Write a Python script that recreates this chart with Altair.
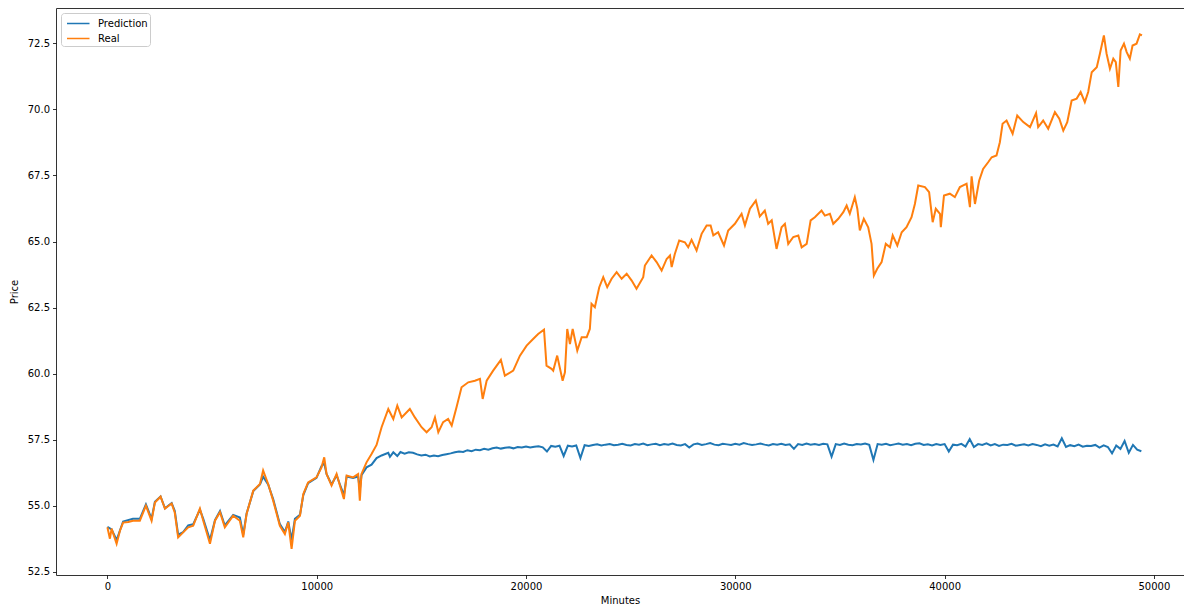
import altair as alt
import pandas as pd

# ---- Real series ----
real_x = [0, 120, 200, 440, 600, 750, 1000, 1220, 1550, 1840, 2110, 2270, 2540, 2750, 3070, 3220,
          3380, 3620, 3860, 4100, 4420, 4580, 4900, 5140, 5380, 5610, 6010, 6330, 6490, 6650, 6970,
          7290, 7440, 7680, 7920, 8240, 8480, 8640, 8800, 8960, 9200, 9360, 9590, 9990, 10230, 10360,
          10470, 10710, 10950, 11110, 11300, 11430, 11740, 11980, 12060, 12140, 12380, 12620, 12860,
          13100, 13420, 13660, 13850, 14060, 14450, 14690, 15010, 15250, 15490, 15650, 15810, 16040,
          16280, 16450, 16680, 16920, 17240, 17560, 17800, 17930, 18120, 18430, 18800, 18990, 19390,
          19710, 20030, 20340, 20580, 20860, 20980, 21220, 21300, 21490, 21750, 21860, 21970, 22100,
          22230, 22450, 22660, 22900, 23050, 23130, 23290, 23500, 23690, 23880, 24090, 24330, 24570,
          24810, 25050, 25280, 25600, 25680, 26000, 26240, 26480, 26720, 26880, 26960, 27110, 27320,
          27590, 27750, 27910, 28150, 28390, 28630, 28820, 28950, 29180, 29460, 29660, 29980, 30300,
          30460, 30700, 30980, 31170, 31410, 31570, 31740, 31970, 32210, 32370, 32530, 32770, 33010,
          33170, 33410, 33600, 33800, 34120, 34280, 34520, 34680, 34920, 35160, 35320, 35470, 35710,
          35830, 35950, 36140, 36350, 36510, 36620, 36780, 36990, 37190, 37390, 37520, 37740, 37950,
          38180, 38420, 38580, 38740, 39060, 39260, 39430, 39580, 39780, 39820, 39970, 40250, 40490,
          40730, 41050, 41210, 41290, 41450, 41650, 41840, 42080, 42250, 42480, 42640, 42770, 42960,
          43250, 43470, 43760, 44080, 44370, 44470, 44710, 44950, 45270, 45480, 45670, 45860, 46070,
          46310, 46500, 46700, 46860, 47030, 47270, 47420, 47610, 47740, 47900, 48060, 48180, 48300,
          48410, 48570, 48700, 48850, 48980, 49170, 49330, 49430]
real_y = [54.18, 53.75, 54.13, 53.56, 54.05, 54.36, 54.38, 54.43, 54.43, 55.0, 54.43, 55.12, 55.34,
          54.89, 55.08, 54.73, 53.8, 53.99, 54.18, 54.24, 54.89, 54.43, 53.56, 54.43, 54.75, 54.18,
          54.62, 54.43, 53.8, 54.69, 55.57, 55.82, 56.33, 55.82, 55.19, 54.24, 53.93, 54.37, 53.36,
          54.43, 54.62, 55.44, 55.88, 56.07, 56.45, 56.83, 56.2, 55.76, 56.2, 55.76, 55.25, 56.14,
          56.07, 56.2, 55.19, 56.2, 56.64, 56.96, 57.3, 57.97, 58.66, 58.28, 58.79, 58.34, 58.66,
          58.34, 57.97, 57.78, 57.97, 58.34, 57.78, 58.16, 58.28, 58.03, 58.73, 59.48, 59.67, 59.73,
          59.8, 59.04, 59.73, 60.11, 60.52, 59.92, 60.11, 60.68, 61.06, 61.31, 61.5, 61.66, 60.3,
          60.18, 60.11, 60.68, 59.73, 60.05, 61.69, 61.12, 61.69, 60.87, 61.38, 61.38, 61.69, 62.64,
          62.51, 63.27, 63.65, 63.27, 63.59, 63.84, 63.59, 63.78, 63.52, 63.21, 63.65, 64.09, 64.47,
          64.22, 63.9, 64.34, 64.47, 64.03, 64.53, 65.04, 64.97, 64.78, 65.06, 64.66, 65.29, 65.61,
          65.61, 65.23, 65.35, 64.85, 65.42, 65.67, 66.05, 65.61, 66.24, 66.55, 65.95, 66.17, 65.67,
          65.8, 64.72, 65.54, 65.67, 64.91, 65.17, 65.23, 64.78, 64.91, 65.8, 65.92, 66.17, 65.98,
          66.05, 65.67, 65.86, 66.11, 66.36, 66.05, 66.68, 66.24, 65.42, 65.86, 65.54, 64.91, 63.71,
          63.97, 64.22, 64.91, 64.78, 65.23, 64.85, 65.35, 65.54, 65.92, 66.42, 67.12, 67.06, 66.87,
          65.73, 66.24, 66.05, 65.54, 66.74, 66.81, 66.68, 67.06, 67.19, 66.3, 67.47, 66.42, 67.3,
          67.75, 68.0, 68.19, 68.26, 68.76, 69.46, 69.58, 69.08, 69.77, 69.52, 69.33, 69.86, 69.33,
          69.58, 69.27, 69.9, 69.65, 69.2, 69.52, 70.34, 70.41, 70.66, 70.28, 70.66, 71.41, 71.6,
          72.11, 72.8, 72.11, 71.54, 71.92, 71.79, 70.85, 72.23, 72.49, 72.17, 71.92, 72.42, 72.49,
          72.84, 72.8]

# ---- Prediction series, first part (tracks the real price) ----
pred_x_early = [0, 200, 440, 750, 1220, 1550, 1840, 2110, 2270, 2540, 2750, 3070, 3220, 3380, 3620,
                3860, 4100, 4420, 4580, 4900, 5140, 5380, 5610, 6010, 6330, 6490, 6650, 6970, 7290,
                7440, 7680, 7920, 8240, 8480, 8640, 8800, 8960, 9200, 9360, 9590, 9990, 10230, 10360,
                10470, 10710, 10950, 11110, 11300, 11430, 11740, 11980, 12060, 12140, 12380, 12620,
                12860, 13100, 13420, 13500, 13660, 13850]
pred_y_early = [54.2, 54.1, 53.7, 54.4, 54.5, 54.5, 55.05, 54.5, 55.15, 55.35, 54.9, 55.1, 54.8, 53.9,
                54.0, 54.25, 54.3, 54.85, 54.5, 53.7, 54.45, 54.8, 54.25, 54.65, 54.55, 53.9, 54.7,
                55.55, 55.8, 56.1, 55.8, 55.25, 54.3, 54.0, 54.4, 53.7, 54.5, 54.65, 55.4, 55.85,
                56.05, 56.5, 56.6, 56.2, 55.8, 56.15, 55.8, 55.4, 56.1, 56.05, 56.1, 55.6, 56.15,
                56.45, 56.55, 56.8, 56.9, 57.0, 56.85, 57.02, 56.88]

# ---- Prediction series, flat part (noisy band around 57.3) ----
pred_x_flat = [14000, 14200, 14400, 14600, 14800, 15000, 15200, 15400, 15600, 15800,
               16000, 16200, 16400, 16600, 16800, 17000, 17200, 17400, 17600, 17800,
               18000, 18200, 18400, 18600, 18800, 19000, 19200, 19400, 19600, 19800,
               20000, 20200, 20400, 20600, 20800, 21000, 21200, 21400, 21600, 21800,
               22000, 22200, 22400, 22600, 22800, 23000, 23200, 23400, 23600, 23800,
               24000, 24200, 24400, 24600, 24800, 25000, 25200, 25400, 25600, 25800,
               26000, 26200, 26400, 26600, 26800, 27000, 27200, 27400, 27600, 27800,
               28000, 28200, 28400, 28600, 28800, 29000, 29200, 29400, 29600, 29800,
               30000, 30200, 30400, 30600, 30800, 31000, 31200, 31400, 31600, 31800,
               32000, 32200, 32400, 32600, 32800, 33000, 33200, 33400, 33600, 33800,
               34000, 34200, 34400, 34600, 34800, 35000, 35200, 35400, 35600, 35800,
               36000, 36200, 36400, 36600, 36800, 37000, 37200, 37400, 37600, 37800,
               38000, 38200, 38400, 38600, 38800, 39000, 39200, 39400, 39600, 39800,
               40000, 40200, 40400, 40600, 40800, 41000, 41200, 41400, 41600, 41800,
               42000, 42200, 42400, 42600, 42800, 43000, 43200, 43400, 43600, 43800,
               44000, 44200, 44400, 44600, 44800, 45000, 45200, 45400, 45600, 45800,
               46000, 46200, 46400, 46600, 46800, 47000, 47200, 47400, 47600, 47800,
               48000, 48200, 48400, 48600, 48800, 49000, 49200, 49400]
pred_y_flat = [57.03, 56.97, 57.02, 57.0, 56.94, 56.9, 56.93, 56.86, 56.9, 56.87,
               56.92, 56.95, 56.98, 57.02, 57.05, 57.03, 57.1, 57.06, 57.12, 57.1,
               57.15, 57.12, 57.17, 57.2, 57.16, 57.19, 57.21, 57.17, 57.22, 57.2,
               57.24, 57.2, 57.23, 57.25, 57.21, 57.05, 57.26, 57.23, 57.27, 56.88,
               57.27, 57.24, 57.28, 56.8, 57.29, 57.26, 57.3, 57.32, 57.28, 57.31,
               57.33, 57.29, 57.31, 57.34, 57.3, 57.28, 57.33, 57.31, 57.35, 57.29,
               57.32, 57.34, 57.29, 57.33, 57.31, 57.35, 57.3, 57.28, 57.33, 57.2,
               57.32, 57.35, 57.3, 57.33, 57.37, 57.31, 57.29, 57.34, 57.32, 57.3,
               57.34, 57.31, 57.37, 57.33, 57.3, 57.32, 57.35, 57.31, 57.28, 57.33,
               57.31, 57.34, 57.3, 57.32, 57.15, 57.33, 57.3, 57.35, 57.31, 57.33,
               57.3, 57.34, 57.32, 56.86, 57.33, 57.3, 57.35, 57.31, 57.29, 57.33,
               57.32, 57.35, 57.3, 56.73, 57.33, 57.31, 57.34, 57.29, 57.32, 57.35,
               57.31, 57.33, 57.29, 57.34, 57.36, 57.3, 57.32, 57.28, 57.33, 57.3,
               57.33, 57.05, 57.31, 57.29, 57.34, 57.24, 57.52, 57.22, 57.33, 57.3,
               57.36, 57.28, 57.33, 57.26, 57.31, 57.3, 57.34, 57.27, 57.3, 57.32,
               57.28, 57.33, 57.3, 57.25, 57.32, 57.27, 57.31, 57.24, 57.55, 57.22,
               57.29, 57.25, 57.31, 57.23, 57.27, 57.26, 57.3, 57.2, 57.28, 57.22,
               56.98, 57.28, 57.15, 57.45, 57.0, 57.3, 57.12, 57.06]

series_names = ["Prediction", "Real"]
series_colors = ["#1f77b4", "#ff7f0e"]
x_ticks = [0, 10000, 20000, 30000, 40000, 50000]
y_ticks = [52.5, 55.0, 57.5, 60.0, 62.5, 65.0, 67.5, 70.0, 72.5]

df = pd.concat([
    pd.DataFrame({"Minutes": pred_x_early + pred_x_flat, "Price": pred_y_early + pred_y_flat,
                  "series": "Prediction"}),
    pd.DataFrame({"Minutes": real_x, "Price": real_y, "series": "Real"}),
], ignore_index=True)

FONT = "DejaVu Sans"

color = alt.Color(
    "series:N",
    scale=alt.Scale(domain=series_names, range=series_colors),
    legend=alt.Legend(
        title=None, orient="top-left", offset=5, symbolType="M-0.6,0L2.4,0",
        symbolSize=225, symbolStrokeWidth=1.5, labelFont=FONT, labelFontSize=10,
        labelColor="black", labelOffset=18, strokeColor="#cccccc", fillColor="white",
        padding=2, cornerRadius=3, rowPadding=1,
    ),
)

x = alt.X("Minutes:Q",
          scale=alt.Scale(domain=[-2456, 51438], nice=False, zero=False),
          axis=alt.Axis(values=x_ticks, format="d", title="Minutes", grid=False, titlePadding=4))
y = alt.Y("Price:Q",
          scale=alt.Scale(domain=[52.375, 73.84], nice=False, zero=False),
          axis=alt.Axis(values=y_ticks, format=".1f", title="Price", grid=False, titlePadding=8))

base = alt.Chart(df).mark_line(strokeWidth=2).encode(x=x, y=y, color=color)

chart = alt.layer(
    base.transform_filter(alt.datum.series == "Prediction"),
    base.transform_filter(alt.datum.series == "Real"),
).properties(
    width=1128, height=567,
    autosize=alt.AutoSizeParams(type="none"),
    padding={"left": 48, "top": 0, "right": 0, "bottom": 35},
).configure_view(
    stroke="#333333", strokeWidth=1
).configure_axis(
    domain=False, tickColor="black", tickSize=3.5, tickWidth=0.8,
    labelFont=FONT, labelFontSize=10, labelColor="black", labelPadding=3,
    titleFont=FONT, titleFontSize=10, titleFontWeight="normal", titleColor="black",
)

chart.save("out.html", embed_options={"renderer": "svg", "actions": False})
